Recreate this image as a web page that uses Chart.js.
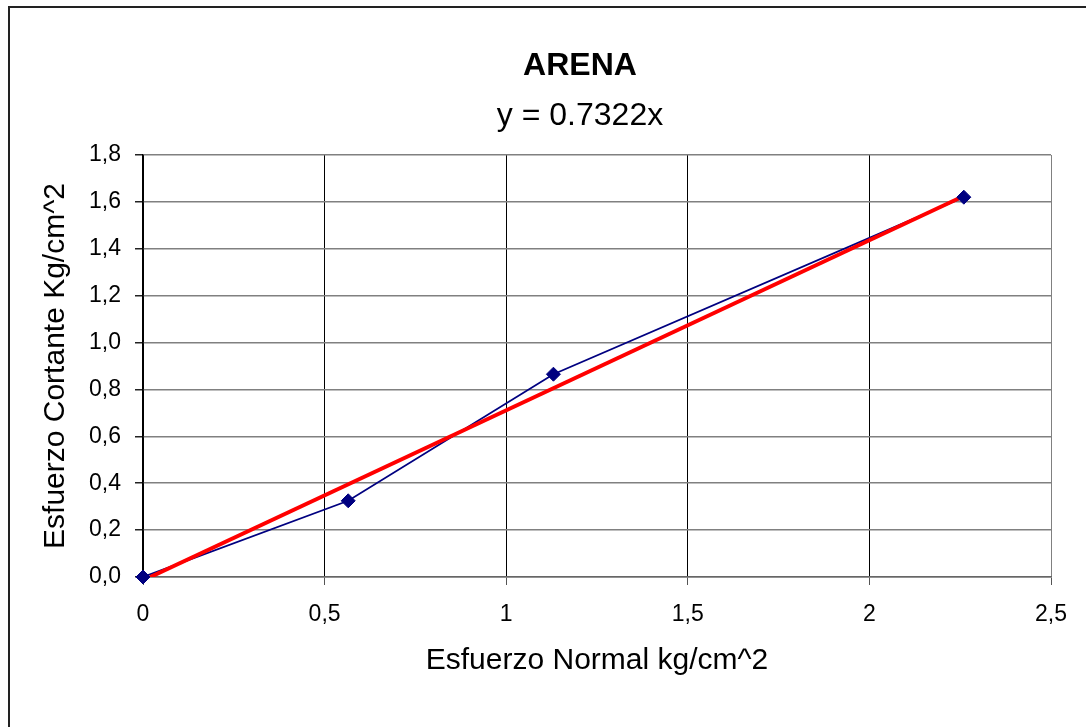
<!DOCTYPE html>
<html>
<head>
<meta charset="utf-8">
<script src="https://cdn.jsdelivr.net/npm/chart.js@4"></script>
<style>
  html, body { margin: 0; padding: 0; background: #fff; }
  #c { display: block; }
</style>
</head>
<body>
<canvas id="c" width="1086" height="727"></canvas>
<script>
// ---- data ----
const chartTitle = "ARENA";
const equationText = "y = 0.7322x";
const xAxisTitle = "Esfuerzo Normal kg/cm^2";
const yAxisTitle = "Esfuerzo Cortante Kg/cm^2";

const normalStress = [0, 0.565, 1.13, 2.26];
const shearStress  = [0, 0.325, 0.865, 1.62];

const trendX = [0.02, 2.26];
const trendY = [0, 1.625];

const xTickLabels = ["0", "0,5", "1", "1,5", "2", "2,5"];
const yTickLabels = ["0,0", "0,2", "0,4", "0,6", "0,8", "1,0", "1,2", "1,4", "1,6", "1,8"];

const FONT = "'Liberation Sans', Arial, sans-serif";

const toPts = (xs, ys) => xs.map((x, i) => ({ x: x, y: ys[i] }));

const decorPlugin = {
  id: 'decor',
  beforeDraw(chart) {
    const ctx = chart.ctx;
    ctx.save();
    ctx.fillStyle = '#fff';
    ctx.fillRect(0, 0, chart.width, chart.height);
    ctx.strokeStyle = '#222';
    ctx.lineWidth = 2;
    ctx.strokeRect(9, 7, 1300, 1300);
    ctx.restore();
  },
  afterDraw(chart) {
    const ctx = chart.ctx;
    ctx.save();
    ctx.fillStyle = '#000';
    ctx.textAlign = 'center';
    ctx.textBaseline = 'middle';
    ctx.font = "bold 32px " + FONT;
    ctx.fillText(chartTitle, 580, 66);
    ctx.font = "32px " + FONT;
    ctx.fillText(equationText, 580, 116);
    ctx.restore();
  }
};

new Chart(document.getElementById('c'), {
  type: 'scatter',
  data: {
    datasets: [
      {
        label: 'puntos',
        data: toPts(normalStress, shearStress),
        showLine: false,
        clip: false,
        pointStyle: 'rectRot',
        pointRadius: 7,
        pointBackgroundColor: '#000080',
        pointBorderColor: '#000080',
        pointBorderWidth: 1
      },
      {
        label: 'tendencia',
        data: toPts(trendX, trendY),
        showLine: true,
        borderColor: '#ff0000',
        borderWidth: 4,
        pointRadius: 0
      },
      {
        label: 'serie',
        data: toPts(normalStress, shearStress),
        showLine: true,
        borderColor: '#000080',
        borderWidth: 1.8,
        pointRadius: 0
      }
    ]
  },
  options: {
    responsive: false,
    animation: false,
    layout: { padding: { left: 0, top: 155, right: 35, bottom: 0 } },
    plugins: {
      legend: { display: false },
      tooltip: { enabled: false },
      title: { display: false }
    },
    scales: {
      x: {
        type: 'linear',
        min: 0, max: 2.5,
        afterFit(scale) { scale.height = 150; },
        ticks: {
          stepSize: 0.5,
          color: '#000',
          padding: 16,
          font: { family: FONT, size: 23 },
          callback: (v, i) => xTickLabels[i]
        },
        grid: {
          color: (c) => (c.tick && c.tick.value === 2.5) ? '#808080' : '#000',
          lineWidth: 1,
          tickLength: 8,
          tickColor: '#555'
        },
        border: { color: '#666', width: 1.5 },
        title: {
          display: true,
          text: xAxisTitle,
          color: '#000',
          font: { family: FONT, size: 30 },
          padding: { top: 0, bottom: 48 }
        }
      },
      y: {
        type: 'linear',
        min: 0, max: 1.8,
        afterFit(scale) { scale.width = 143; },
        ticks: {
          stepSize: 0.2,
          color: '#000',
          padding: 14,
          font: { family: FONT, size: 23 },
          callback: (v, i) => yTickLabels[i]
        },
        grid: {
          color: '#808080',
          lineWidth: 1.5,
          tickLength: 8,
          tickColor: '#222'
        },
        border: { color: '#000', width: 1.5 },
        title: {
          display: true,
          text: yAxisTitle,
          color: '#000',
          font: { family: FONT, size: 30 },
          padding: { top: 38, bottom: 0 }
        }
      }
    }
  },
  plugins: [decorPlugin]
});
</script>
</body>
</html>
